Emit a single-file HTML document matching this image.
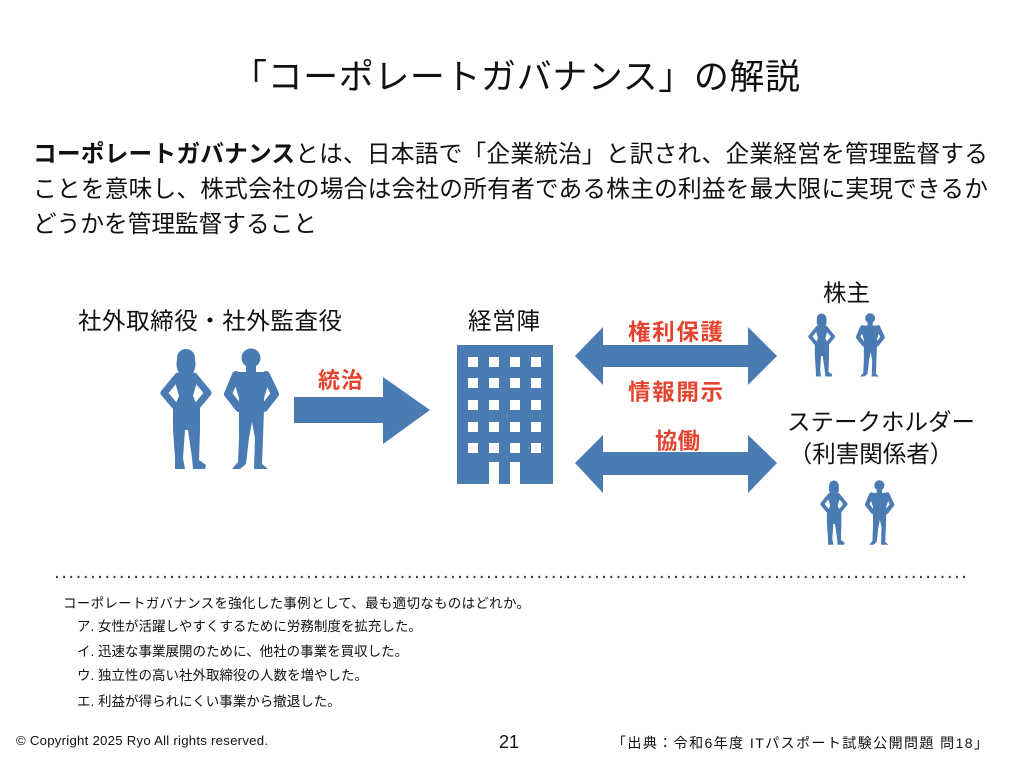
<!DOCTYPE html>
<html><head><meta charset="utf-8">
<style>
html,body{margin:0;padding:0;background:#fff;}
svg{display:block;}
text{font-family:"Liberation Sans","Noto Sans CJK JP",sans-serif;fill:#111;}
.b{font-weight:bold;}
.r{fill:#e4432d;font-weight:bold;}
</style></head>
<body>
<svg width="1024" height="768" viewBox="0 0 1024 768" xmlns="http://www.w3.org/2000/svg">
<defs>
  <g id="woman" fill="#4a7bb2" stroke="#4a7bb2">
    <ellipse cx="26" cy="16" rx="9.5" ry="13" stroke="none"/>
    <circle cx="26" cy="10" r="9" stroke="none"/>
    <polygon points="16,25 36,25 37,34 33,48 39,62 13,62 19,48 15,34" stroke="none"/>
    <polyline points="18,28 4,45 15,58" fill="none" stroke-width="7" stroke-linejoin="round" stroke-linecap="round"/>
    <polyline points="34,28 48,45 37,58" fill="none" stroke-width="7" stroke-linejoin="round" stroke-linecap="round"/>
    <polygon points="13,60 40,60 40,82 39,112 46,117 45,121 33,121 32,110 28,82 25,82 23,110 25,121 15,121 15,110 13,82" stroke="none"/>
  </g>
  <g id="man" fill="#4a7bb2" stroke="#4a7bb2">
    <circle cx="25" cy="10" r="9.5" stroke="none"/>
    <rect x="20" y="16" width="10" height="10" stroke="none"/>
    <polygon points="10,24 40,24 43,34 38,50 38,64 13,64 13,50 8,34" stroke="none"/>
    <polyline points="10,27 2,46 13,60" fill="none" stroke-width="8" stroke-linejoin="round" stroke-linecap="round"/>
    <polyline points="40,27 49,46 38,60" fill="none" stroke-width="8" stroke-linejoin="round" stroke-linecap="round"/>
    <polygon points="13,62 38,62 37,90 36,116 42,121 28,121 29,90 26,74 23,90 20,116 14,121 6,121 12,114 13,90" stroke="none"/>
  </g>
</defs>

<!-- Title -->
<text x="232" y="89" font-size="35" textLength="568" lengthAdjust="spacing">「コーポレートガバナンス」の解説</text>

<!-- Paragraph -->
<text x="33" y="162" font-size="23.7" textLength="955" lengthAdjust="spacing"><tspan class="b">コーポレートガバナンス</tspan>とは、日本語で「企業統治」と訳され、企業経営を管理監督する</text>
<text x="33" y="197" font-size="23.7" textLength="955" lengthAdjust="spacing">ことを意味し、株式会社の場合は会社の所有者である株主の利益を最大限に実現できるか</text>
<text x="33" y="232" font-size="23.7" textLength="284" lengthAdjust="spacing">どうかを管理監督すること</text>

<!-- Labels -->
<text x="78" y="329" font-size="23.5" textLength="264" lengthAdjust="spacing">社外取締役・社外監査役</text>
<text x="468" y="329" font-size="23.5" textLength="72" lengthAdjust="spacing">経営陣</text>
<text x="823" y="301" font-size="23.5" textLength="47" lengthAdjust="spacing">株主</text>
<text x="787" y="430" font-size="23.5" textLength="188" lengthAdjust="spacing">ステークホルダー</text>
<text x="871" y="462" font-size="23.5" text-anchor="middle">（利害関係者）</text>

<!-- Red labels -->
<text class="r" x="318" y="388" font-size="22" textLength="45" lengthAdjust="spacing">統治</text>
<text class="r" x="628" y="340" font-size="22.5" textLength="95" lengthAdjust="spacing">権利保護</text>
<text class="r" x="628" y="400" font-size="22.5" textLength="95" lengthAdjust="spacing">情報開示</text>
<text class="r" x="655" y="449" font-size="22.5" textLength="45" lengthAdjust="spacing">協働</text>

<!-- Arrows -->
<polygon fill="#4a7bb2" points="294,397 383,397 383,377 430,410 383,444 383,423 294,423"/>
<polygon fill="#4a7bb2" points="575,356 603,327 603,345 748,345 748,327 777,356 748,385 748,367 603,367 603,385"/>
<polygon fill="#4a7bb2" points="575,463 603,435 603,452 748,452 748,435 777,463 748,493 748,475 603,475 603,493"/>

<!-- Building -->
<rect x="457" y="345" width="96" height="139" fill="#4a7bb2"/>
<g fill="#fff">
  <rect x="468" y="357" width="10" height="10"/><rect x="489" y="357" width="10" height="10"/><rect x="510" y="357" width="10" height="10"/><rect x="531" y="357" width="10" height="10"/>
  <rect x="468" y="378" width="10" height="10"/><rect x="489" y="378" width="10" height="10"/><rect x="510" y="378" width="10" height="10"/><rect x="531" y="378" width="10" height="10"/>
  <rect x="468" y="400" width="10" height="10"/><rect x="489" y="400" width="10" height="10"/><rect x="510" y="400" width="10" height="10"/><rect x="531" y="400" width="10" height="10"/>
  <rect x="468" y="422" width="10" height="10"/><rect x="489" y="422" width="10" height="10"/><rect x="510" y="422" width="10" height="10"/><rect x="531" y="422" width="10" height="10"/>
  <rect x="468" y="443" width="10" height="10"/><rect x="489" y="443" width="10" height="10"/><rect x="510" y="443" width="10" height="10"/><rect x="531" y="443" width="10" height="10"/>
  <rect x="489" y="462" width="10" height="22"/><rect x="510" y="462" width="10" height="22"/>
</g>

<!-- Figures -->
<use href="#woman" transform="translate(160,348)"/>
<use href="#man" transform="translate(226,348)"/>
<use href="#woman" transform="translate(808,313) scale(0.525)"/>
<use href="#man" transform="translate(857,313) scale(0.525)"/>
<use href="#woman" transform="translate(820,480) scale(0.535)"/>
<use href="#man" transform="translate(866,480) scale(0.535)"/>

<!-- Dotted line -->
<line x1="56" y1="577" x2="968" y2="577" stroke="#333" stroke-width="2.2" stroke-dasharray="1.8 5.4"/>

<!-- Question -->
<text x="63" y="608" font-size="13.5" textLength="467" lengthAdjust="spacing">コーポレートガバナンスを強化した事例として、最も適切なものはどれか。</text>
<text x="77" y="631" font-size="13.5">ア. 女性が活躍しやすくするために労務制度を拡充した。</text>
<text x="77" y="656" font-size="13.5">イ. 迅速な事業展開のために、他社の事業を買収した。</text>
<text x="77" y="680" font-size="13.5">ウ. 独立性の高い社外取締役の人数を増やした。</text>
<text x="77" y="706" font-size="13.5">エ. 利益が得られにくい事業から撤退した。</text>

<!-- Footer -->
<text x="16" y="745" font-size="13.2" textLength="252" lengthAdjust="spacing">© Copyright 2025  Ryo All rights reserved.</text>
<text x="499" y="748" font-size="18">21</text>
<text x="612" y="748" font-size="14" textLength="376" lengthAdjust="spacing">「出典：令和6年度 ITパスポート試験公開問題 問18」</text>
</svg>
</body></html>
